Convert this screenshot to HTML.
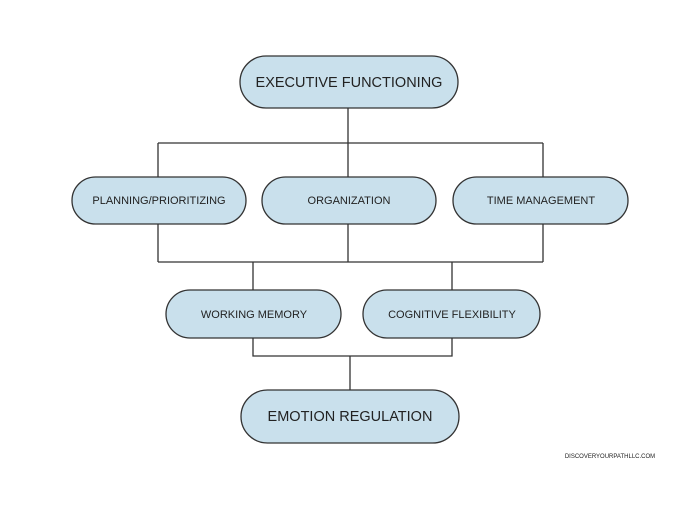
<!DOCTYPE html>
<html><head><style>
body{margin:0;background:#fff;}
svg text{font-family:"Liberation Sans",sans-serif;fill:#222;text-anchor:middle;dominant-baseline:central;}
</style></head><body>
<svg width="700" height="500" viewBox="0 0 700 500" xmlns="http://www.w3.org/2000/svg">
<g stroke="#333" stroke-width="1.3" fill="none">
<path d="M348 108V177M158 143H543M158 143V177M543 143V177"/>
<path d="M158 224V262M348 224V262M543 224V262M158 262H543M253 262V290M452 262V290"/>
<path d="M253 338V356H452V338M350 356V390"/>
</g>
<g fill="#c9e0ec" stroke="#333" stroke-width="1.3">
<rect x="240" y="56" width="218" height="52" rx="26"/>
<rect x="72" y="177" width="174" height="47" rx="23.5"/>
<rect x="262" y="177" width="174" height="47" rx="23.5"/>
<rect x="453" y="177" width="175" height="47" rx="23.5"/>
<rect x="166" y="290" width="175" height="48" rx="24"/>
<rect x="363" y="290" width="177" height="48" rx="24"/>
<rect x="241" y="390" width="218" height="53" rx="26.5"/>
</g>
<text x="349" y="83" font-size="14.5">EXECUTIVE FUNCTIONING</text>
<text x="159" y="201" font-size="11">PLANNING/PRIORITIZING</text>
<text x="349" y="201" font-size="11">ORGANIZATION</text>
<text x="541" y="201" font-size="11">TIME MANAGEMENT</text>
<text x="254" y="315" font-size="11">WORKING MEMORY</text>
<text x="452" y="315" font-size="11">COGNITIVE FLEXIBILITY</text>
<text x="350" y="417" font-size="14.5">EMOTION REGULATION</text>
<text x="610" y="457" font-size="6">DISCOVERYOURPATHLLC.COM</text>
</svg>
</body></html>
